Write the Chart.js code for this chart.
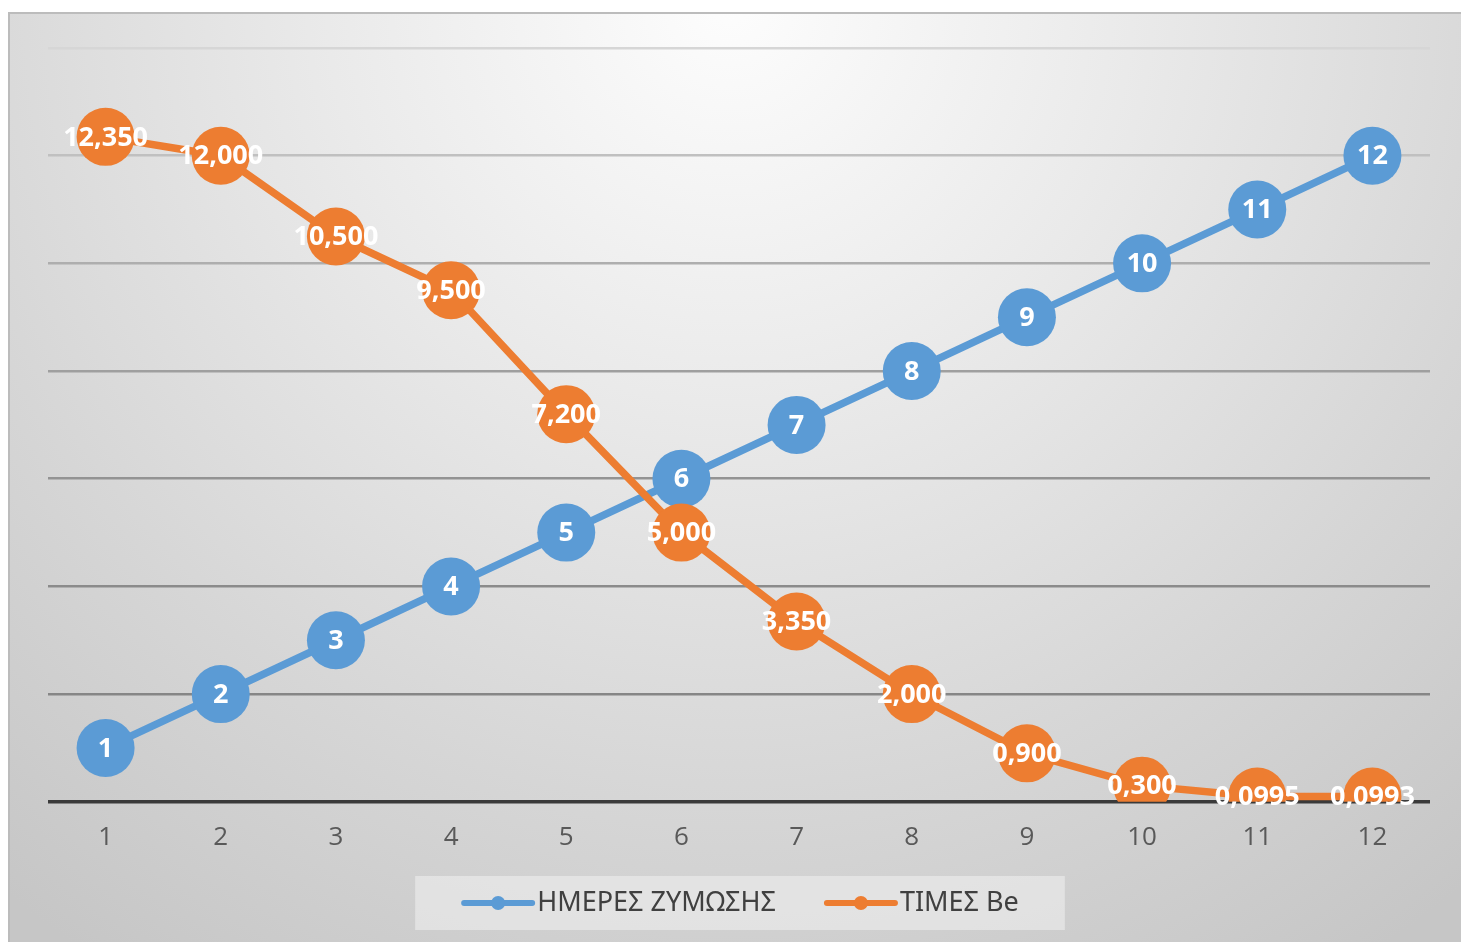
<!DOCTYPE html>
<html>
<head>
<meta charset="utf-8">
<script src="https://cdn.jsdelivr.net/npm/chart.js@4/dist/chart.umd.min.js"></script>
<style>
  html, body { margin: 0; padding: 0; background: #ffffff; }
  #wrap { width: 1461px; height: 942px; }
</style>
</head>
<body>
<div id="wrap"><canvas id="chart" width="1461" height="942"></canvas></div>
<script>
// Fermentation days (x categories)
const days = ['1', '2', '3', '4', '5', '6', '7', '8', '9', '10', '11', '12'];
// Series 1: day counter
const fermentationDays = [1, 2, 3, 4, 5, 6, 7, 8, 9, 10, 11, 12];
// Series 2: Baumé readings
const beValues = [12.35, 12, 10.5, 9.5, 7.2, 5, 3.35, 2, 0.9, 0.3, 0.0995, 0.0993];
const seriesNames = ['ΗΜΕΡΕΣ ΖΥΜΩΣΗΣ', 'ΤΙΜΕΣ Be'];
// Value axis range
const yMin = 0;
const yMax = 14;
const yStep = 2;

const BLUE = '#5B9BD5';
const ORANGE = '#ED7D31';
const LEGEND_FONT = '27px "Noto Sans", "DejaVu Sans", sans-serif';

// Baumé labels use a decimal comma and at least three decimals
function formatBe(v) {
  let s = v.toFixed(3);
  if (parseFloat(s) !== v) s = v.toFixed(4);
  return s.replace('.', ',');
}

// Panel background with a soft radial shade
const backdrop = {
  id: 'backdrop',
  beforeDraw(chart) {
    const ctx = chart.ctx;
    const W = chart.width, H = chart.height;
    ctx.save();
    ctx.fillStyle = '#ffffff';
    ctx.fillRect(0, 0, W, H);
    const px = 8, py = 12;
    const grad = ctx.createRadialGradient(730, 0, 0, 730, 0, 1150);
    grad.addColorStop(0, '#fdfdfd');
    grad.addColorStop(0.35, '#eaeaea');
    grad.addColorStop(0.7, '#d6d6d6');
    grad.addColorStop(1, '#c6c6c6');
    ctx.fillStyle = grad;
    ctx.fillRect(px, py, W - px, H - py);
    ctx.strokeStyle = '#bcbcbc';
    ctx.lineWidth = 2;
    ctx.beginPath();
    ctx.moveTo(px + 1, H); ctx.lineTo(px + 1, py + 1); ctx.lineTo(W, py + 1);
    ctx.stroke();
    ctx.restore();
  }
};

// Legend below the axis: line-and-dot marker followed by the series name
const seriesLegend = {
  id: 'seriesLegend',
  afterDraw(chart) {
    const ctx = chart.ctx;
    const ds = chart.data.datasets;
    const markerW = 74, markerGap = 2, itemGap = 48;
    const cy = 903;
    ctx.save();
    ctx.font = LEGEND_FONT;
    const widths = ds.map(d => markerW + markerGap + ctx.measureText(d.label).width);
    const total = widths.reduce((a, b) => a + b, 0) + itemGap * (ds.length - 1);
    let x = 740 - total / 2;
    // lighter box behind the legend
    ctx.fillStyle = 'rgba(238,238,238,0.6)';
    ctx.fillRect(x - 46, 876, total + 92, 54);
    ds.forEach((d, i) => {
      ctx.strokeStyle = d.borderColor;
      ctx.fillStyle = d.borderColor;
      ctx.lineWidth = 6;
      ctx.lineCap = 'round';
      ctx.beginPath();
      ctx.moveTo(x + 3, cy); ctx.lineTo(x + markerW - 3, cy);
      ctx.stroke();
      ctx.beginPath();
      ctx.arc(x + markerW / 2, cy, 7, 0, Math.PI * 2);
      ctx.fill();
      ctx.fillStyle = '#404040';
      ctx.textAlign = 'left';
      ctx.textBaseline = 'middle';
      ctx.fillText(d.label, x + markerW + markerGap, cy);
      x += widths[i] + itemGap;
    });
    ctx.restore();
  }
};

// White value labels centred on each marker
const valueLabels = {
  id: 'valueLabels',
  afterDatasetsDraw(chart) {
    const ctx = chart.ctx;
    ctx.save();
    ctx.font = 'bold 27px "Open Sans", "DejaVu Sans", sans-serif';
    ctx.fillStyle = '#ffffff';
    ctx.textAlign = 'center';
    ctx.textBaseline = 'middle';
    chart.data.datasets.forEach((ds, i) => {
      const meta = chart.getDatasetMeta(i);
      meta.data.forEach((pt, j) => {
        const v = ds.data[j];
        const txt = i === 1 ? formatBe(v) : String(v);
        ctx.fillText(txt, pt.x, pt.y + 1);
      });
    });
    ctx.restore();
  }
};

function gridGray(v) {
  if (v === 0) return '#3a3a3a';
  const g = Math.round(132 + 0.42 * v * v);
  return `rgb(${g},${g},${g})`;
}

new Chart(document.getElementById('chart'), {
  type: 'line',
  data: {
    labels: days,
    datasets: [
      {
        label: seriesNames[0],
        data: fermentationDays,
        borderColor: BLUE,
        backgroundColor: BLUE,
        borderWidth: 7.5,
        pointRadius: 29,
        pointHoverRadius: 29,
        pointBackgroundColor: BLUE,
        pointBorderColor: BLUE,
        pointBorderWidth: 0,
        tension: 0,
        order: 1
      },
      {
        label: seriesNames[1],
        data: beValues,
        borderColor: ORANGE,
        backgroundColor: ORANGE,
        borderWidth: 7.5,
        pointRadius: 29,
        pointHoverRadius: 29,
        pointBackgroundColor: ORANGE,
        pointBorderColor: ORANGE,
        pointBorderWidth: 0,
        tension: 0,
        order: 0
      }
    ]
  },
  options: {
    responsive: false,
    animation: false,
    devicePixelRatio: 1,
    layout: { padding: { left: 48, right: 31, top: 48, bottom: 69 } },
    scales: {
      x: {
        offset: true,
        grid: { display: false, drawTicks: false },
        border: { display: false },
        ticks: {
          color: '#595959',
          padding: 20,
          font: { family: '"Open Sans", "DejaVu Sans", sans-serif', size: 26 }
        }
      },
      y: {
        min: yMin,
        max: yMax,
        border: { display: false },
        grid: {
          drawTicks: false,
          color: ctx => gridGray(ctx.tick.value),
          lineWidth: ctx => (ctx.tick.value === 0 ? 3.5 : 2.5)
        },
        ticks: { display: false, stepSize: yStep }
      }
    },
    plugins: {
      legend: { display: false },
      tooltip: { enabled: false }
    }
  },
  plugins: [backdrop, valueLabels, seriesLegend]
});
</script>
</body>
</html>
